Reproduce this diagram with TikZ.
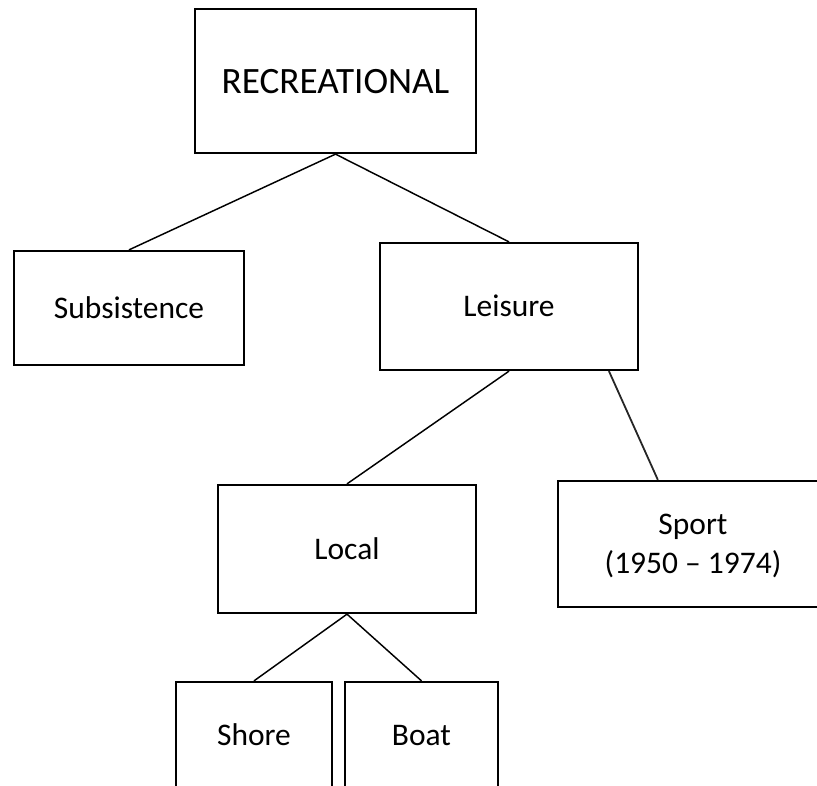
\documentclass[tikz,border=0pt]{standalone}
\usepackage{fontspec}
\setmainfont{Carlito}
\usetikzlibrary{calc}
\begin{document}
\begin{tikzpicture}[x=0.75pt,y=-0.75pt,
  box/.style={draw=black, line width=1.7pt, rectangle, inner sep=0pt,
    text height=15.2pt, text depth=0pt,
    font=\fontsize{23.6}{29.25}\selectfont},
  link/.style={draw=black, line width=1.1pt}]
\useasboundingbox (0,0) rectangle (817,785);
\clip (0,0) rectangle (817,785);
\node[box, minimum width=210.75pt, minimum height=108pt, text height=18pt,
      font=\fontsize{27.9}{33}\selectfont] (rec) at (335.5,81) {RECREATIONAL};
\node[box, minimum width=172.5pt, minimum height=85.5pt] (sub) at (129,308) {Subsistence};
\node[box, minimum width=193.5pt, minimum height=95.25pt] (lei) at (509,306.5) {Leisure};
\node[box, minimum width=193.5pt, minimum height=96pt] (loc) at (347,549) {Local};
\node[box, minimum width=202.5pt, minimum height=94.5pt, text height=44.45pt, text depth=0pt]
  (spo) at (693,544) {\begin{tabular}[b]{@{}c@{}}Sport\\(1950 – 1974)\end{tabular}};
\node[box, minimum width=117pt, minimum height=79.5pt] (sho) at (254,735) {Shore};
\node[box, minimum width=114.75pt, minimum height=79.5pt] (boa) at (421.5,735) {Boat};
\coordinate (leiR) at ($(lei.south west)!0.884!(lei.south east)$);
\coordinate (spoT) at ($(spo.north west)+(101,0)$);
\draw[link] (rec.south) -- (sub.north);
\draw[link] (rec.south) -- (lei.north);
\draw[link] (lei.south) -- (loc.north);
\draw[link, line width=1.35pt, draw=black!85] (leiR) -- (spoT);
\draw[link] (loc.south) -- (sho.north);
\draw[link] (loc.south) -- (boa.north);
\end{tikzpicture}
\end{document}
